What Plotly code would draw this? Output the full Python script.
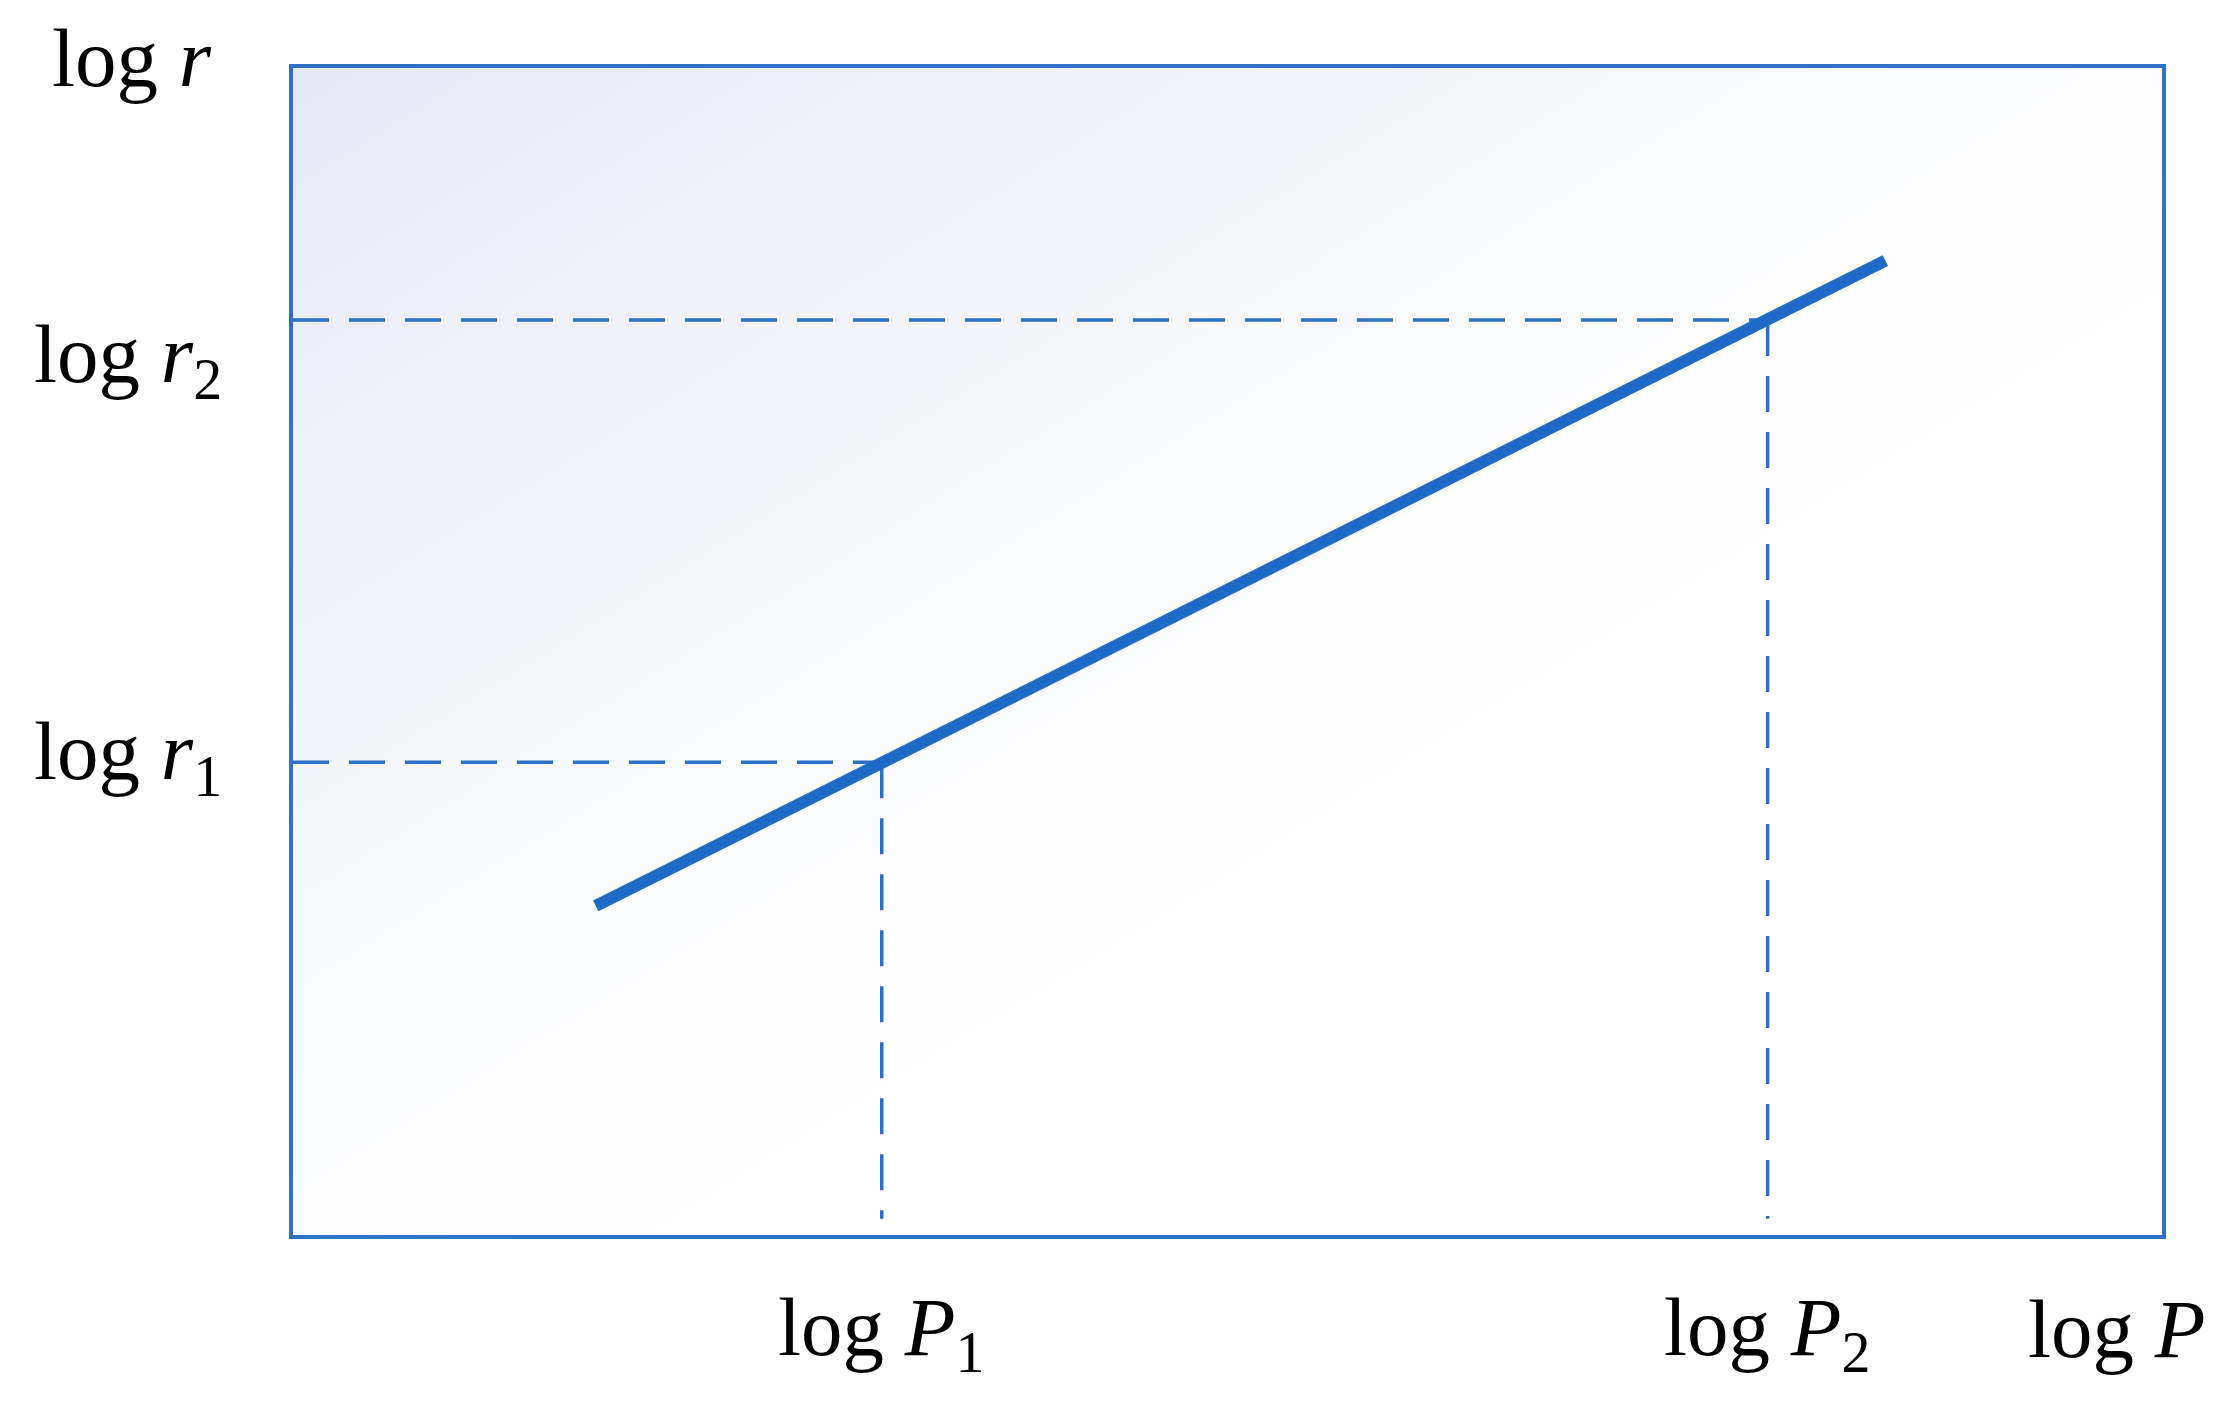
import base64
import plotly.graph_objects as go

# ---- data (arbitrary axis units, 0..100 on both axes) ----
line_logP = [16.2, 85.2]          # solid line x end points
line_logr = [28.2, 83.5]          # solid line y end points
P_marks = [31.5, 78.9]            # log P1, log P2
r_marks = [40.5, 78.4]            # log r1, log r2
guide_bottom = 1.4                # where vertical guides stop
x_tick_labels = ["log <i>P</i><sub>1</sub>", "log <i>P</i><sub>2</sub>"]
y_tick_labels = ["log <i>r</i><sub>1</sub>", "log <i>r</i><sub>2</sub>"]
x_axis_label = "log <i>P</i>"
y_axis_label = "log <i>r</i>"

# page body has an 8px margin; compensate so the plot sits where it should
OFF = 8
W, H = 2229 - 2 * OFF, 1413 - 2 * OFF
BOX_L, BOX_T, BOX_R, BOX_B = 293, 68, 2162, 1235   # screen px of plot area
L, T = BOX_L - OFF, BOX_T - OFF
R = W - (BOX_R - OFF)
B = H - (BOX_B - OFF)

LINE_COLOR = "#1d6bc6"
GUIDE_COLOR = "#2a6fc8"
BOX_COLOR = "#2f72c6"
FONT = "Liberation Serif"
FS = 83

fig = go.Figure()

# dashed guides
for p, r in zip(P_marks, r_marks):
    fig.add_trace(go.Scatter(x=[0, p], y=[r, r], mode="lines",
                             line=dict(color=GUIDE_COLOR, width=3.5, dash="36px,20px"),
                             hoverinfo="skip", showlegend=False))
    fig.add_trace(go.Scatter(x=[p, p], y=[r, guide_bottom], mode="lines",
                             line=dict(color=GUIDE_COLOR, width=3.5, dash="36px,20px"),
                             hoverinfo="skip", showlegend=False))

# main line
fig.add_trace(go.Scatter(x=line_logP, y=line_logr, mode="lines",
                         line=dict(color=LINE_COLOR, width=12),
                         hoverinfo="skip", showlegend=False))

# gradient background via svg image
svg = ('<svg xmlns="http://www.w3.org/2000/svg" width="200" height="125" '
       'preserveAspectRatio="none" viewBox="0 0 200 125">'
       '<defs><linearGradient id="g" x1="0" y1="0" x2="1" y2="1">'
       '<stop offset="0" stop-color="#e6e8f4"/>'
       '<stop offset="0.22" stop-color="#f1f2f8"/>'
       '<stop offset="0.45" stop-color="#fafbfd"/>'
       '<stop offset="0.6" stop-color="#ffffff"/>'
       '<stop offset="1" stop-color="#ffffff"/>'
       '</linearGradient></defs>'
       '<rect x="0" y="0" width="200" height="125" fill="url(#g)"/></svg>')
src = "data:image/svg+xml;base64," + base64.b64encode(svg.encode()).decode()
fig.add_layout_image(dict(source=src, xref="paper", yref="paper", x=0, y=1,
                          sizex=1, sizey=1, sizing="stretch", layer="below",
                          xanchor="left", yanchor="top"))

pw, ph = W - L - R, H - T - B
def px2paper_x(px):   # px in screen coordinates
    return (px - OFF - L) / pw
def px2paper_y(py):
    return (H - B - (py - OFF)) / ph

annots = []
for p, txt in zip(P_marks, x_tick_labels):
    annots.append(dict(x=p, xref="x", y=px2paper_y(1333), yref="paper", text=txt,
                       showarrow=False, xanchor="center", yanchor="middle"))
annots.append(dict(x=px2paper_x(2117), xref="paper", y=px2paper_y(1329), yref="paper",
                   text=x_axis_label, showarrow=False, xanchor="center", yanchor="middle"))
y_label_px = [757, 360]
for py, txt in zip(y_label_px, y_tick_labels):
    annots.append(dict(x=px2paper_x(128), xref="paper", y=px2paper_y(py), yref="paper",
                       text=txt, showarrow=False, xanchor="center", yanchor="middle"))
annots.append(dict(x=px2paper_x(132), xref="paper", y=px2paper_y(58), yref="paper",
                   text=y_axis_label, showarrow=False, xanchor="center", yanchor="middle"))

fig.update_layout(
    width=W, height=H,
    margin=dict(l=L, r=R, t=T, b=B),
    paper_bgcolor="white",
    plot_bgcolor="rgba(0,0,0,0)",
    font=dict(family=FONT, size=FS, color="#000000"),
    annotations=annots,
    xaxis=dict(range=[0, 100], showgrid=False, zeroline=False, showticklabels=False,
               ticks="", showline=True, mirror=True, linecolor=BOX_COLOR, linewidth=3.5),
    yaxis=dict(range=[0, 100], showgrid=False, zeroline=False, showticklabels=False,
               ticks="", showline=True, mirror=True, linecolor=BOX_COLOR, linewidth=3.5),
)

fig.write_html("out.html")
